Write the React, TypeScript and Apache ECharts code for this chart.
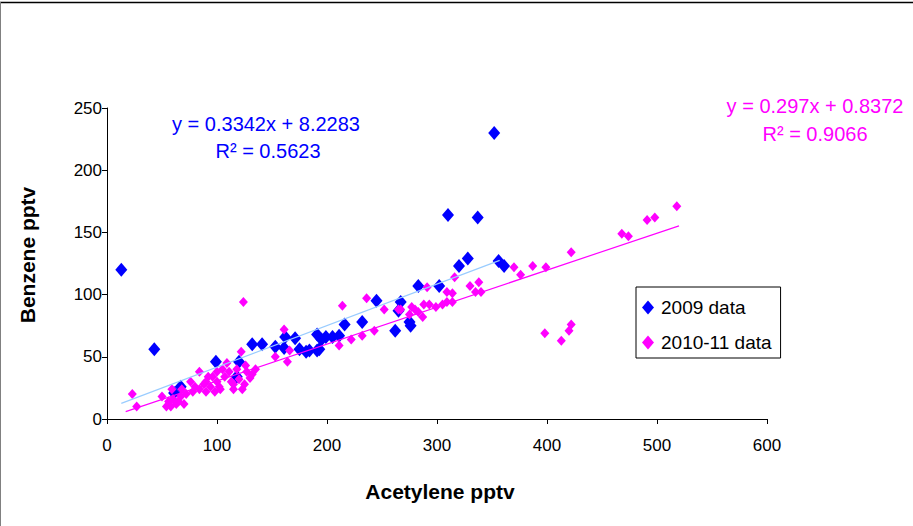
import React, { useEffect, useRef } from "react";
import * as echarts from "echarts";

const xTicks = [0, 100, 200, 300, 400, 500, 600];
const yTicks = [0, 50, 100, 150, 200, 250];

const data2009: [number, number][] = [
  [13, 120], [43, 56], [61, 21], [67, 26], [99, 46], [118, 34], [120, 46], [132, 60],
  [141, 60], [153, 58], [161, 57], [162, 66], [171, 65], [175, 56], [181, 54], [184, 55],
  [191, 55], [191, 68], [193, 56], [195, 64], [199, 66], [205, 66], [211, 67], [216, 76],
  [232, 78], [245, 95], [262, 71], [265, 87], [267, 94], [275, 78], [276, 75], [283, 107],
  [302, 107], [310, 164], [320, 123], [328, 129], [337, 162], [352, 230], [356, 127], [361, 123],
];

const data2010: [number, number][] = [
  [23, 20], [27, 10], [50, 18], [54, 10], [56, 14], [58, 10], [59, 24], [60, 16],
  [63, 12], [65, 14], [67, 18], [68, 24], [70, 12], [72, 20], [76, 30], [78, 22],
  [80, 26], [84, 24], [84, 38], [88, 28], [90, 22], [90, 30], [92, 34], [94, 26],
  [96, 34], [98, 22], [100, 30], [100, 38], [102, 26], [103, 24], [105, 40], [107, 34],
  [109, 45], [111, 38], [113, 30], [115, 28], [115, 24], [118, 40], [120, 32], [122, 54],
  [123, 24], [124, 94], [125, 28], [126, 43], [127, 38], [130, 33], [132, 36], [135, 40],
  [153, 50], [161, 72], [164, 46], [166, 55], [211, 59], [214, 91], [222, 64], [232, 67],
  [236, 97], [243, 71], [252, 88], [265, 88], [267, 88], [275, 84], [277, 90], [280, 88],
  [283, 86], [287, 82], [288, 92], [291, 106], [293, 92], [299, 90], [305, 92], [309, 94],
  [309, 102], [314, 101], [314, 94], [316, 114], [330, 107], [335, 102], [338, 110], [340, 102],
  [370, 122], [376, 116], [387, 123], [399, 122], [422, 134], [398, 69], [413, 63], [420, 71],
  [422, 76], [468, 149], [474, 147], [491, 160], [498, 162], [518, 171],
];

const trend2009: [number, number][] = [[13, 12.6], [357, 127.5]];
const trend2010: [number, number][] = [[17, 5.9], [520, 155.3]];

const seriesNames = ["2009 data", "2010-11 data"];
const eq2009 = ["y = 0.3342x + 8.2283", "R² = 0.5623"];
const eq2010 = ["y = 0.297x + 0.8372", "R² = 0.9066"];

const FONT = "'Liberation Sans', Arial, sans-serif";

export default function App() {
  const ref = useRef<HTMLDivElement>(null);
  useEffect(() => {
    if (!ref.current) return;
    const chart = echarts.init(ref.current, undefined, { renderer: "svg" });
    chart.setOption({
      animation: false,
      backgroundColor: "#ffffff",
      textStyle: { fontFamily: FONT },
      grid: { left: 107, top: 108, width: 660, height: 311, containLabel: false },
      xAxis: {
        type: "value",
        min: xTicks[0],
        max: xTicks[xTicks.length - 1],
        interval: 100,
        axisLine: { show: true, onZero: false, lineStyle: { color: "#000", width: 1 } },
        axisTick: { show: true, length: 5, lineStyle: { color: "#000" } },
        axisLabel: { color: "#000", fontSize: 17, fontFamily: FONT, margin: 18 },
        splitLine: { show: false },
      },
      yAxis: {
        type: "value",
        min: yTicks[0],
        max: yTicks[yTicks.length - 1],
        interval: 50,
        axisLine: { show: true, onZero: false, lineStyle: { color: "#000", width: 1 } },
        axisTick: { show: true, length: 5, lineStyle: { color: "#000" } },
        axisLabel: { color: "#000", fontSize: 17, fontFamily: FONT, margin: 5 },
        splitLine: { show: false },
      },
      legend: {
        orient: "vertical",
        left: 636,
        top: 287,
        data: [
          { name: seriesNames[0], icon: "diamond" },
          { name: seriesNames[1], icon: "diamond" },
        ],
        itemWidth: 12,
        itemHeight: 14,
        itemGap: 16,
        padding: [11, 9, 6, 6],
        borderColor: "#000",
        borderWidth: 1,
        backgroundColor: "#fff",
        textStyle: { color: "#000", fontSize: 19, fontFamily: FONT, padding: [0, 0, 0, 2] },
      },
      series: [
        {
          name: seriesNames[0],
          type: "scatter",
          symbol: "diamond",
          symbolSize: [12, 14],
          itemStyle: { color: "#0000ff", opacity: 1 },
          data: data2009,
          z: 2,
        },
        {
          name: seriesNames[1],
          type: "scatter",
          symbol: "diamond",
          symbolSize: [9, 10],
          itemStyle: { color: "#ff00ff", opacity: 1 },
          data: data2010,
          z: 3,
        },
        {
          name: "trend2009",
          type: "line",
          data: trend2009,
          symbol: "none",
          lineStyle: { color: "#99ccff", width: 1.2 },
          z: 4,
        },
        {
          name: "trend2010",
          type: "line",
          data: trend2010,
          symbol: "none",
          lineStyle: { color: "#ff00ff", width: 1.2 },
          z: 4,
        },
      ],
      graphic: [
        { type: "line", shape: { x1: 0, y1: 2.5, x2: 913, y2: 2.5 }, style: { stroke: "#000", lineWidth: 1.5 } },
        { type: "line", shape: { x1: 0.5, y1: 2, x2: 0.5, y2: 526 }, style: { stroke: "#808080", lineWidth: 1 } },
        {
          type: "text", x: 266, y: 124,
          style: { text: eq2009[0], fill: "#0000ff", font: `20px ${FONT}`, textAlign: "center", textVerticalAlign: "middle" },
        },
        {
          type: "text", x: 268, y: 151,
          style: { text: eq2009[1], fill: "#0000ff", font: `20px ${FONT}`, textAlign: "center", textVerticalAlign: "middle" },
        },
        {
          type: "text", x: 815, y: 106,
          style: { text: eq2010[0], fill: "#ff00ff", font: `20px ${FONT}`, textAlign: "center", textVerticalAlign: "middle" },
        },
        {
          type: "text", x: 815, y: 134,
          style: { text: eq2010[1], fill: "#ff00ff", font: `20px ${FONT}`, textAlign: "center", textVerticalAlign: "middle" },
        },
        {
          type: "text", x: 27, y: 255, rotation: Math.PI / 2,
          style: { text: "Benzene pptv", fill: "#000", font: `bold 21px ${FONT}`, textAlign: "center", textVerticalAlign: "middle" },
        },
        {
          type: "text", x: 440, y: 491,
          style: { text: "Acetylene pptv", fill: "#000", font: `bold 21px ${FONT}`, textAlign: "center", textVerticalAlign: "middle" },
        },
      ],
    });
    return () => chart.dispose();
  }, []);
  return (
    <div
      ref={ref}
      style={{ position: "absolute", left: 0, top: 0, width: 913, height: 526 }}
    />
  );
}
